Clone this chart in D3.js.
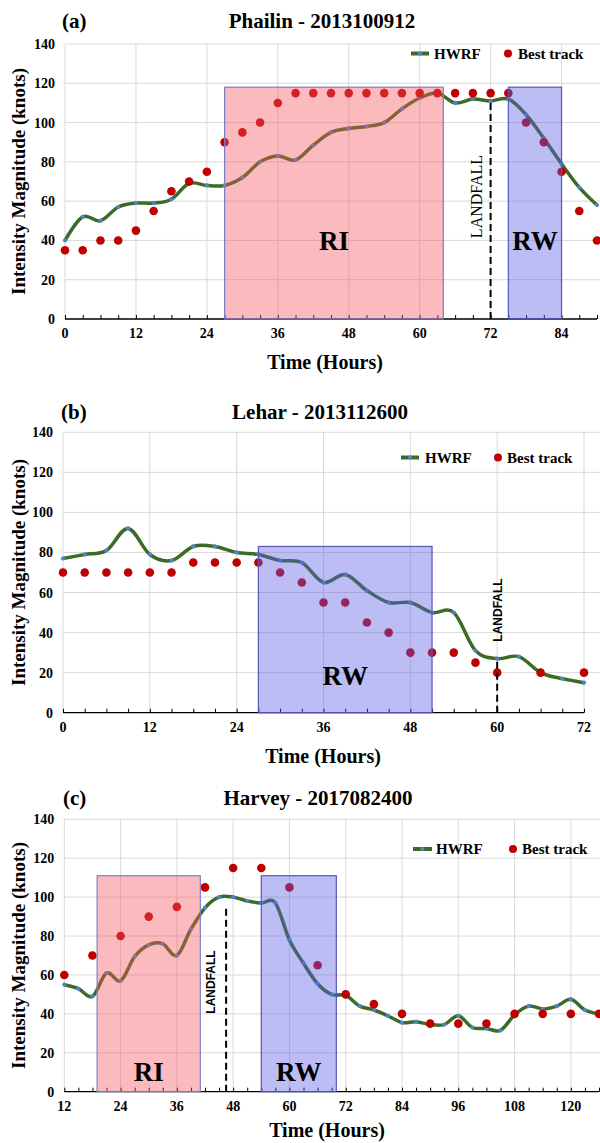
<!DOCTYPE html>
<html>
<head>
<meta charset="utf-8">
<script src="https://cdn.jsdelivr.net/npm/d3@7"></script>
<style>
  html, body { margin: 0; padding: 0; background: #fff; }
  svg { display: block; }
</style>
</head>
<body>
<script>
// ---------- Shared tick labels ----------
const yTickValues = [0, 20, 40, 60, 80, 100, 120, 140];

// ---------- (a) Phailin ----------
const titleA = "Phailin - 2013100912";
const hoursA = [0, 3, 6, 9, 12, 15, 18, 21, 24, 27, 30, 33, 36, 39, 42, 45, 48, 51, 54, 57, 60, 63, 66, 69, 72, 75, 78, 81, 84, 87, 90];
const hwrfA  = [40, 52, 50, 57, 59, 59, 61, 69, 68, 68, 72, 80, 83, 81, 88.5, 95, 97, 98, 100, 107, 112.5, 115, 110, 112, 111, 112, 104, 92, 79, 67, 58];
const bestA  = [35, 35, 40, 40, 45, 55, 65, 70, 75, 90, 95, 100, 110, 115, 115, 115, 115, 115, 115, 115, 115, 115, 115, 115, 115, 115, 100, 90, 75, 55, 40];
const xTicksA = [0, 12, 24, 36, 48, 60, 72, 84];
const riA = [27, 64, 118];        // start hour, end hour, top (knots)
const rwA = [75, 84, 118];
const landfallA = [72, 111];      // hour, top of marker line (knots)

// ---------- (b) Lehar ----------
const titleB = "Lehar - 2013112600";
const hoursB = [0, 3, 6, 9, 12, 15, 18, 21, 24, 27, 30, 33, 36, 39, 42, 45, 48, 51, 54, 57, 60, 63, 66, 69, 72];
const hwrfB  = [77, 79, 81, 92, 79, 76, 83, 83, 80, 79, 76, 75, 65, 69, 61, 55, 55, 50, 50, 31, 27, 28, 20, 17, 15];
const bestB  = [70, 70, 70, 70, 70, 70, 75, 75, 75, 75, 70, 65, 55, 55, 45, 40, 30, 30, 30, 25, 20, null, 20, null, 20];
const xTicksB = [0, 12, 24, 36, 48, 60, 72];
const rwB = [27, 51, 83];
const landfallB = [60, 27.5];

// ---------- (c) Harvey ----------
const titleC = "Harvey - 2017082400";
const hoursC = [12, 15, 18, 21, 24, 27, 30, 33, 36, 39, 42, 45, 48, 51, 54, 57, 60, 63, 66, 69, 72, 75, 78, 81, 84, 87, 90, 93, 96, 99, 102, 105, 108, 111, 114, 117, 120, 123, 126];
const hwrfC  = [55, 53, 49, 61, 57, 69.5, 75.5, 76, 70, 83.5, 94.5, 100, 100, 98, 97, 97, 78, 66, 55.5, 50, 49.5, 44, 42, 39, 35.5, 36, 34.5, 34.5, 39, 33, 32.5, 31.5, 39.5, 44, 42.5, 44, 47.5, 42, 40];
const bestHoursC = [12, 18, 24, 30, 36, 42, 48, 54, 60, 66, 72, 78, 84, 90, 96, 102, 108, 114, 120, 126];
const bestC  = [60, 70, 80, 90, 95, 105, 115, 115, 105, 65, 50, 45, 40, 35, 35, 35, 40, 40, 40, 40];
const xTicksC = [12, 24, 36, 48, 60, 72, 84, 96, 108, 120];
const riC = [19, 41, 111];
const rwC = [54, 70, 111];
const landfallC = [46.5, 95];

// ---------- Styling ----------
const SERIF = "'Liberation Serif', 'Times New Roman', serif";
const SANS = "'Liberation Sans', Arial, sans-serif";
const COL = {
  grid: "#d9d9d9",
  hwrf: "#3d6b25",
  marker: "#4a86d0",
  best: "#c00000",
  riFill: "#f4525a",
  rwFill: "#5a5ae6",
  riStroke: "#7b7fc8",
  rwStroke: "#5558b8"
};

const W = 600, H = 1143;
const svg = d3.select("body").append("svg")
  .attr("width", W).attr("height", H)
  .attr("viewBox", `0 0 ${W} ${H}`);

const panels = [
  {
    tag: "(a)", title: titleA,
    hours: hoursA, hwrf: hwrfA, bestHours: hoursA, best: bestA,
    xDomain: [0, 90], xRange: [65, 597], yRange: [319, 44], xTicks: xTicksA,
    boxes: [{ label: "RI", span: riA, fill: COL.riFill, stroke: COL.riStroke },
            { label: "RW", span: rwA, fill: COL.rwFill, stroke: COL.rwStroke }],
    landfall: landfallA,
    layout: {
      titleX: 322, titleY: 27.5, tagX: 62,
      legendY: 53.5, legLine: [411, 429], legHwrfX: 434, legDotX: 508, legBestX: 518,
      boxLabelY: 250,
      lfLabel: { x: 481.5, y: 196.5, font: SERIF, size: 16, weight: "normal" },
      yTitleX: 25, xTitleX: 325, xTitleGap: 50
    }
  },
  {
    tag: "(b)", title: titleB,
    hours: hoursB, hwrf: hwrfB, bestHours: hoursB, best: bestB,
    xDomain: [0, 72], xRange: [63, 584], yRange: [712.7, 432.3], xTicks: xTicksB,
    boxes: [{ label: "RW", span: rwB, fill: COL.rwFill, stroke: COL.rwStroke }],
    landfall: landfallB,
    layout: {
      titleX: 320, titleY: 418.5, tagX: 61,
      legendY: 457.5, legLine: [401, 419], legHwrfX: 425, legDotX: 498, legBestX: 507,
      boxLabelY: 685,
      lfLabel: { x: 502.3, y: 610, font: SANS, size: 12, weight: "bold" },
      yTitleX: 25, xTitleX: 323, xTitleGap: 50
    }
  },
  {
    tag: "(c)", title: titleC,
    hours: hoursC, hwrf: hwrfC, bestHours: bestHoursC, best: bestC,
    xDomain: [12, 126], xRange: [64.3, 599], yRange: [1091.7, 819.3], xTicks: xTicksC,
    boxes: [{ label: "RI", span: riC, fill: COL.riFill, stroke: COL.riStroke },
            { label: "RW", span: rwC, fill: COL.rwFill, stroke: COL.rwStroke }],
    landfall: landfallC,
    layout: {
      titleX: 318, titleY: 805, tagX: 63,
      legendY: 849, legLine: [413, 432], legHwrfX: 436, legDotX: 513, legBestX: 522,
      boxLabelY: 1081,
      lfLabel: { x: 214.8, y: 982, font: SANS, size: 12, weight: "bold" },
      yTitleX: 25, xTitleX: 327, xTitleGap: 45.5
    }
  }
];

panels.forEach(drawPanel);

function drawPanel(p) {
  const L = p.layout;
  const x = d3.scaleLinear().domain(p.xDomain).range(p.xRange);
  const y = d3.scaleLinear().domain([0, 140]).range(p.yRange);
  const g = svg.append("g");
  const x0 = p.xRange[0], x1 = W;
  const yBottom = y(0), yTop = y(140);

  // Gridlines
  g.append("g").selectAll("line.h")
    .data(yTickValues.filter(v => v > 0))
    .join("line")
    .attr("x1", x0).attr("x2", x1)
    .attr("y1", d => y(d)).attr("y2", d => y(d))
    .attr("stroke", COL.grid).attr("stroke-width", 1);
  g.append("g").selectAll("line.v")
    .data(p.xTicks)
    .join("line")
    .attr("x1", d => x(d)).attr("x2", d => x(d))
    .attr("y1", yBottom).attr("y2", yTop)
    .attr("stroke", COL.grid).attr("stroke-width", 1);

  // X axis: black baseline with inward minor ticks every 3 hours
  const xAxis = d3.axisBottom(x)
    .tickValues(p.hours.filter(h => h >= p.xDomain[0] && h <= p.xDomain[1]))
    .tickSizeInner(-4).tickSizeOuter(0).tickFormat("");
  const ax = g.append("g").attr("transform", `translate(0,${yBottom})`).call(xAxis);
  ax.select(".domain").attr("stroke", "#000").attr("stroke-width", 1.3)
    .attr("d", `M${x0},0H${p.xRange[1]}`);
  ax.selectAll(".tick line").attr("stroke", "#000").attr("stroke-width", 1);

  // Tick labels
  g.append("g").selectAll("text")
    .data(p.xTicks)
    .join("text")
    .attr("x", d => x(d)).attr("y", yBottom + 19)
    .attr("text-anchor", "middle")
    .style("font-family", SERIF).style("font-weight", "bold").style("font-size", "14px")
    .text(d => d);
  g.append("g").selectAll("text")
    .data(yTickValues)
    .join("text")
    .attr("x", x0 - 10).attr("y", d => y(d) + 5)
    .attr("text-anchor", "end")
    .style("font-family", SERIF).style("font-weight", "bold").style("font-size", "14px")
    .text(d => d);

  // HWRF smoothed line with markers
  const hwrfPts = p.hours.map((h, i) => [h, p.hwrf[i]]);
  const line = d3.line().x(d => x(d[0])).y(d => y(d[1])).curve(d3.curveCardinal.tension(0));
  g.append("path")
    .attr("d", line(hwrfPts))
    .attr("fill", "none").attr("stroke", COL.hwrf)
    .attr("stroke-width", 3.5).attr("stroke-linejoin", "round");
  g.append("g").selectAll("circle")
    .data(hwrfPts)
    .join("circle")
    .attr("cx", d => x(d[0])).attr("cy", d => y(d[1])).attr("r", 2.1)
    .attr("fill", COL.marker);

  // Best-track dots
  const bestPts = p.bestHours.map((h, i) => [h, p.best[i]]).filter(d => d[1] != null);
  g.append("g").selectAll("circle")
    .data(bestPts)
    .join("circle")
    .attr("cx", d => x(d[0])).attr("cy", d => y(d[1])).attr("r", 4.3)
    .attr("fill", COL.best);

  // RI / RW shaded periods
  p.boxes.forEach(b => {
    const [h0, h1, top] = b.span;
    g.append("rect")
      .attr("x", x(h0)).attr("y", y(top))
      .attr("width", x(h1) - x(h0)).attr("height", y(0) - y(top))
      .attr("fill", b.fill).attr("fill-opacity", 0.4)
      .attr("stroke", b.stroke).attr("stroke-width", 1.2);
    g.append("text")
      .attr("x", (x(h0) + x(h1)) / 2).attr("y", L.boxLabelY)
      .attr("text-anchor", "middle")
      .style("font-family", SERIF).style("font-weight", "bold").style("font-size", "27px")
      .text(b.label);
  });

  // Landfall marker
  const [lfHour, lfTop] = p.landfall;
  g.append("line")
    .attr("x1", x(lfHour)).attr("x2", x(lfHour))
    .attr("y1", y(0)).attr("y2", y(lfTop))
    .attr("stroke", "#000").attr("stroke-width", 2)
    .attr("stroke-dasharray", "7,4");
  g.append("text")
    .attr("transform", `translate(${L.lfLabel.x},${L.lfLabel.y}) rotate(-90)`)
    .attr("text-anchor", "middle")
    .style("font-family", L.lfLabel.font).style("font-weight", L.lfLabel.weight)
    .style("font-size", L.lfLabel.size + "px")
    .text("LANDFALL");

  // Titles
  g.append("text")
    .attr("x", L.tagX).attr("y", L.titleY)
    .style("font-family", SERIF).style("font-weight", "bold").style("font-size", "21px")
    .text(p.tag);
  g.append("text")
    .attr("x", L.titleX).attr("y", L.titleY)
    .attr("text-anchor", "middle")
    .style("font-family", SERIF).style("font-weight", "bold").style("font-size", "21px")
    .text(p.title);

  // Axis titles
  g.append("text")
    .attr("x", L.xTitleX).attr("y", yBottom + L.xTitleGap)
    .attr("text-anchor", "middle")
    .style("font-family", SERIF).style("font-weight", "bold").style("font-size", "20px")
    .text("Time (Hours)");
  g.append("text")
    .attr("transform", `translate(${L.yTitleX},${(yBottom + yTop) / 2}) rotate(-90)`)
    .attr("text-anchor", "middle")
    .style("font-family", SERIF).style("font-weight", "bold").style("font-size", "19px")
    .text("Intensity Magnitude (knots)");

  // Legend
  const ly = L.legendY;
  g.append("line")
    .attr("x1", L.legLine[0]).attr("x2", L.legLine[1])
    .attr("y1", ly).attr("y2", ly)
    .attr("stroke", COL.hwrf).attr("stroke-width", 4);
  g.append("circle")
    .attr("cx", (L.legLine[0] + L.legLine[1]) / 2).attr("cy", ly).attr("r", 2.1)
    .attr("fill", COL.marker);
  g.append("text")
    .attr("x", L.legHwrfX).attr("y", ly + 5)
    .style("font-family", SERIF).style("font-weight", "bold").style("font-size", "15px")
    .text("HWRF");
  g.append("circle")
    .attr("cx", L.legDotX).attr("cy", ly).attr("r", 4)
    .attr("fill", COL.best);
  g.append("text")
    .attr("x", L.legBestX).attr("y", ly + 5)
    .style("font-family", SERIF).style("font-weight", "bold").style("font-size", "15px")
    .text("Best track");
}
</script>
</body>
</html>
